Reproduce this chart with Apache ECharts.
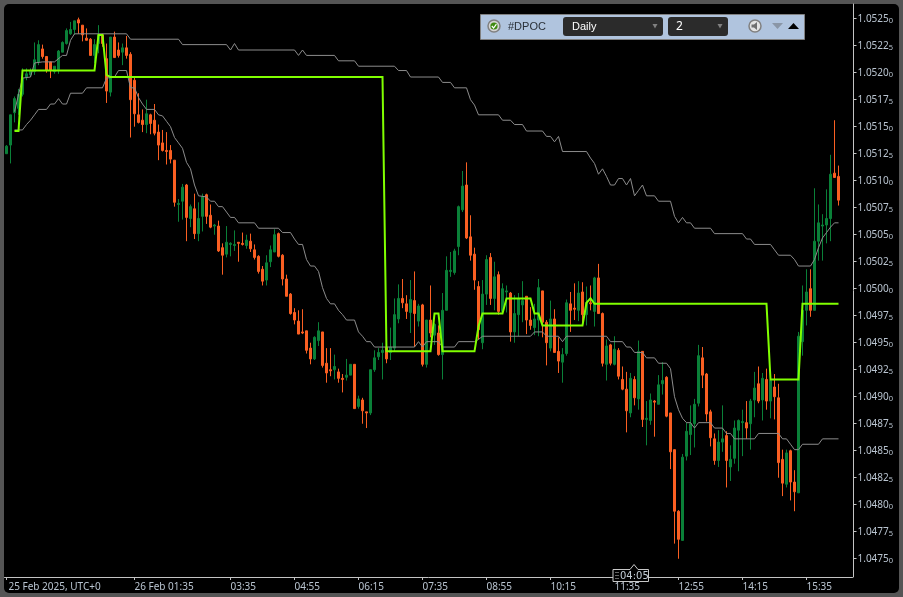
<!DOCTYPE html>
<html><head><meta charset="utf-8">
<style>html,body{margin:0;padding:0;background:#555}#c{width:903px;height:597px}</style>
<script src="https://cdn.jsdelivr.net/npm/echarts@6/dist/echarts.min.js"></script>
</head><body><div id="c"></div>
<script>
const opens=[1.05125,1.05133,1.05163,1.05167,1.05180,1.05196,1.05198,1.05201,1.05210,1.05222,
1.05215,1.05210,1.05201,1.05203,1.05219,1.05227,1.05236,1.05240,1.05249,1.05244,
1.05232,1.05231,1.05216,1.05227,1.05235,1.05213,1.05182,1.05233,1.05221,1.05219,
1.05223,1.05217,1.05193,1.05161,1.05156,1.05152,1.05161,1.05156,1.05145,1.05135,
1.05128,1.05128,1.05119,1.05078,1.05081,1.05096,1.05065,1.05074,1.05051,1.05067,
1.05087,1.05068,1.05058,1.05058,1.05038,1.05032,1.05041,1.05040,1.05043,1.05042,
1.05040,1.05044,1.05036,1.05030,1.05018,1.05008,1.05025,1.05034,1.05051,1.05031,
1.05009,1.04995,1.04978,1.04970,1.04960,1.04961,1.04945,1.04935,1.04952,1.04960,
1.04931,1.04925,1.04925,1.04923,1.04917,1.04918,1.04920,1.04930,1.04891,1.04897,
1.04886,1.04885,1.04925,1.04937,1.04941,1.04946,1.04941,1.04945,1.04972,1.04991,
1.04986,1.04978,1.04989,1.04970,1.04985,1.04930,1.04971,1.04957,1.04959,1.04939,
1.04980,1.05016,1.05015,1.05039,1.05073,1.05096,1.05048,1.05032,1.05002,1.04950,
1.04995,1.05029,1.04991,1.05013,1.04979,1.04997,1.04996,1.04960,1.04976,1.04985,
1.04993,1.04971,1.04964,1.04971,1.04998,1.04969,1.04945,1.04972,1.04942,1.04932,
1.04940,1.04986,1.04982,1.04980,1.04997,1.04976,1.04987,1.04979,1.05010,1.04977,
1.04930,1.04948,1.04930,1.04943,1.04916,1.04907,1.04885,1.04916,1.04898,1.04942,
1.04879,1.04878,1.04896,1.04893,1.04912,1.04918,1.04885,1.04851,1.04794,1.04767,
1.04845,1.04865,1.04875,1.04894,1.04936,1.04921,1.04886,1.04861,1.04841,1.04858,
1.04864,1.04835,1.04843,1.04869,1.04876,1.04876,1.04875,1.04897,1.04912,1.04897,
1.04916,1.04896,1.04909,1.04899,1.04842,1.04819,1.04850,1.04821,1.04811,1.04951,
1.04980,1.05000,1.04980,1.05044,1.05058,1.05059,1.05065,1.05107,1.05104];
const closes=[1.05132,1.05161,1.05176,1.05180,1.05195,1.05199,1.05202,1.05212,1.05226,1.05215,
1.05202,1.05202,1.05206,1.05220,1.05228,1.05239,1.05240,1.05248,1.05246,1.05235,
1.05230,1.05216,1.05226,1.05235,1.05227,1.05183,1.05233,1.05214,1.05216,1.05223,
1.05216,1.05175,1.05162,1.05154,1.05152,1.05162,1.05153,1.05144,1.05133,1.05128,
1.05127,1.05120,1.05080,1.05079,1.05094,1.05066,1.05076,1.05051,1.05065,1.05085,
1.05067,1.05057,1.05059,1.05035,1.05031,1.05043,1.05042,1.05041,1.05042,1.05041,
1.05045,1.05037,1.05029,1.05016,1.05007,1.05024,1.05036,1.05050,1.05030,1.05009,
1.04993,1.04977,1.04971,1.04958,1.04959,1.04943,1.04935,1.04955,1.04961,1.04929,
1.04922,1.04924,1.04928,1.04917,1.04916,1.04920,1.04930,1.04889,1.04898,1.04887,
1.04885,1.04925,1.04936,1.04941,1.04943,1.04935,1.04946,1.04976,1.04991,1.04987,
1.04979,1.04990,1.04977,1.04984,1.04930,1.04971,1.04959,1.04967,1.04939,1.04980,
1.05017,1.05017,1.05035,1.05076,1.05095,1.05047,1.05031,1.05008,1.04962,1.04995,
1.05027,1.04991,1.05011,1.04979,1.05000,1.04998,1.04960,1.04977,1.04991,1.04989,
1.04971,1.04966,1.04972,1.05001,1.04969,1.04950,1.04972,1.04941,1.04933,1.04939,
1.04987,1.04980,1.04981,1.04996,1.04976,1.04987,1.04986,1.05010,1.04977,1.04931,
1.04947,1.04931,1.04944,1.04919,1.04907,1.04887,1.04917,1.04899,1.04942,1.04879,
1.04880,1.04897,1.04895,1.04911,1.04915,1.04882,1.04849,1.04794,1.04768,1.04844,
1.04868,1.04875,1.04893,1.04938,1.04920,1.04884,1.04862,1.04841,1.04858,1.04861,
1.04841,1.04842,1.04871,1.04878,1.04877,1.04871,1.04896,1.04908,1.04896,1.04917,
1.04896,1.04915,1.04900,1.04839,1.04820,1.04848,1.04821,1.04812,1.04956,1.04980,
1.04997,1.04980,1.05044,1.05061,1.05059,1.05065,1.05106,1.05103,1.05082];
const lows=[1.05125,1.05116,1.05154,1.05161,1.05178,1.05193,1.05196,1.05198,1.05207,1.05213,
1.05200,1.05195,1.05199,1.05199,1.05219,1.05226,1.05235,1.05235,1.05236,1.05229,
1.05230,1.05216,1.05209,1.05218,1.05224,1.05172,1.05178,1.05214,1.05214,1.05207,
1.05213,1.05140,1.05150,1.05153,1.05145,1.05144,1.05143,1.05142,1.05119,1.05127,
1.05115,1.05116,1.05076,1.05062,1.05064,1.05044,1.05057,1.05046,1.05044,1.05053,
1.05060,1.05056,1.05050,1.05034,1.05013,1.05029,1.05030,1.05035,1.05025,1.05040,
1.05037,1.05034,1.05027,1.05014,1.05003,1.05003,1.05020,1.05034,1.05029,1.05003,
1.04993,1.04976,1.04967,1.04958,1.04958,1.04940,1.04930,1.04934,1.04947,1.04927,
1.04913,1.04919,1.04916,1.04913,1.04904,1.04915,1.04920,1.04889,1.04889,1.04875,
1.04871,1.04883,1.04923,1.04934,1.04916,1.04931,1.04934,1.04942,1.04968,1.04982,
1.04972,1.04959,1.04946,1.04965,1.04928,1.04927,1.04955,1.04948,1.04938,1.04916,
1.04980,1.05011,1.05013,1.05031,1.05071,1.05046,1.05026,1.04999,1.04953,1.04944,
1.04985,1.04985,1.04980,1.04976,1.04978,1.04978,1.04951,1.04950,1.04956,1.04969,
1.04958,1.04962,1.04957,1.04956,1.04955,1.04929,1.04942,1.04941,1.04922,1.04913,
1.04938,1.04960,1.04971,1.04970,1.04966,1.04966,1.04980,1.04965,1.04977,1.04928,
1.04915,1.04929,1.04929,1.04916,1.04906,1.04867,1.04881,1.04892,1.04888,1.04872,
1.04855,1.04874,1.04863,1.04893,1.04902,1.04881,1.04833,1.04764,1.04750,1.04767,
1.04841,1.04846,1.04853,1.04891,1.04908,1.04877,1.04854,1.04837,1.04835,1.04849,
1.04816,1.04822,1.04838,1.04831,1.04845,1.04861,1.04851,1.04881,1.04894,1.04878,
1.04888,1.04880,1.04879,1.04825,1.04808,1.04816,1.04804,1.04794,1.04811,1.04938,
1.04966,1.04974,1.04980,1.05026,1.05026,1.05042,1.05044,1.05103,1.05077];
const highs=[1.05133,1.05161,1.05178,1.05185,1.05204,1.05204,1.05204,1.05228,1.05230,1.05226,
1.05215,1.05210,1.05206,1.05221,1.05229,1.05241,1.05247,1.05248,1.05251,1.05244,
1.05241,1.05232,1.05231,1.05244,1.05236,1.05227,1.05233,1.05238,1.05228,1.05227,
1.05234,1.05219,1.05196,1.05181,1.05166,1.05175,1.05162,1.05171,1.05152,1.05147,
1.05145,1.05133,1.05119,1.05083,1.05097,1.05097,1.05078,1.05088,1.05080,1.05088,
1.05088,1.05078,1.05060,1.05063,1.05042,1.05058,1.05043,1.05054,1.05043,1.05052,
1.05050,1.05051,1.05041,1.05031,1.05021,1.05031,1.05040,1.05055,1.05052,1.05032,
1.05013,1.04996,1.04982,1.04980,1.04981,1.04961,1.04950,1.04956,1.04969,1.04960,
1.04945,1.04945,1.04939,1.04926,1.04921,1.04935,1.04930,1.04930,1.04901,1.04899,
1.04886,1.04925,1.04943,1.04945,1.04950,1.04946,1.04964,1.04991,1.05004,1.05009,
1.04994,1.05008,1.05016,1.04986,1.04986,1.04971,1.05003,1.04968,1.04966,1.04996,
1.05030,1.05034,1.05037,1.05077,1.05109,1.05117,1.05068,1.05038,1.05007,1.05008,
1.05031,1.05033,1.05025,1.05016,1.05005,1.05003,1.04997,1.04994,1.04996,1.05007,
1.04993,1.04983,1.04986,1.05009,1.04998,1.04971,1.04989,1.04981,1.04955,1.04945,
1.04990,1.04997,1.05005,1.05007,1.05006,1.05002,1.05003,1.05011,1.05023,1.04978,
1.04953,1.04949,1.04956,1.04945,1.04928,1.04923,1.04922,1.04919,1.04952,1.04942,
1.04896,1.04903,1.04897,1.04920,1.04932,1.04919,1.04885,1.04851,1.04795,1.04847,
1.04876,1.04892,1.04898,1.04948,1.04946,1.04922,1.04888,1.04866,1.04869,1.04892,
1.04868,1.04855,1.04878,1.04879,1.04888,1.04896,1.04898,1.04923,1.04928,1.04922,
1.04926,1.04917,1.04921,1.04912,1.04851,1.04851,1.04851,1.04832,1.04960,1.05003,
1.05018,1.05018,1.05093,1.05078,1.05069,1.05092,1.05124,1.05156,1.05114];

const upperIdx=[2,4,6,7,9,12,14,15,16,17,30,31,43,44,55,56,57,58,72,73,74,75,82,83,87,88,97,98,100,101,108,109,111,112,115,116,117,118,123,124,126,127,129,130,134,135,136,137,138,139,145,146,147,148,149,150,151,152,153,154,155,156,157,158,159,160,162,163,166,167,168,169,170,171,172,176,177,184,185,186,187,191,192,193,196,197,198,201,202,203,204,205,206,207,208];
const upperVal=[1.05164,1.05195,1.05196,1.05209,1.05210,1.05210,1.05216,1.05216,1.05230,1.05236,1.05236,1.05231,1.05231,1.05226,1.05226,1.05221,1.05227,1.05221,1.05221,1.05216,1.05221,1.05216,1.05216,1.05211,1.05211,1.05206,1.05206,1.05202,1.05202,1.05196,1.05196,1.05191,1.05191,1.05186,1.05186,1.05175,1.05170,1.05161,1.05161,1.05156,1.05156,1.05152,1.05152,1.05146,1.05146,1.05141,1.05141,1.05136,1.05141,1.05127,1.05127,1.05121,1.05116,1.05106,1.05111,1.05104,1.05096,1.05096,1.05102,1.05102,1.05096,1.05102,1.05086,1.05091,1.05096,1.05086,1.05086,1.05081,1.05081,1.05067,1.05061,1.05066,1.05061,1.05061,1.05056,1.05056,1.05051,1.05051,1.05046,1.05046,1.05041,1.05041,1.05036,1.05031,1.05031,1.05027,1.05021,1.05021,1.05027,1.05038,1.05047,1.05052,1.05057,1.05061,1.05061];
const lowerIdx=[2,4,5,6,7,8,10,11,12,13,14,15,16,19,20,24,25,27,28,30,31,32,33,34,35,37,38,39,40,41,42,43,44,45,46,47,48,50,51,52,53,54,55,56,57,58,62,63,68,69,71,72,73,74,75,76,77,78,79,80,81,82,83,84,85,87,88,89,90,91,92,102,103,104,105,108,109,112,113,117,118,119,131,132,134,135,138,139,140,150,151,154,155,156,157,159,160,162,163,165,166,167,168,169,170,171,172,173,176,177,179,180,181,182,187,188,193,194,195,196,197,198,199,203,204,208];
const lowerVal=[1.05147,1.05147,1.05152,1.05156,1.05161,1.05166,1.05166,1.05171,1.05171,1.05176,1.05171,1.05171,1.05181,1.05181,1.05186,1.05186,1.05195,1.05196,1.05202,1.05202,1.05186,1.05186,1.05177,1.05171,1.05166,1.05166,1.05161,1.05160,1.05155,1.05150,1.05140,1.05135,1.05130,1.05117,1.05111,1.05096,1.05086,1.05085,1.05081,1.05081,1.05076,1.05076,1.05071,1.05066,1.05066,1.05061,1.05061,1.05056,1.05056,1.05052,1.05052,1.05046,1.05041,1.05041,1.05027,1.05021,1.05021,1.05016,1.05001,1.04991,1.04986,1.04986,1.04980,1.04976,1.04971,1.04971,1.04960,1.04956,1.04951,1.04951,1.04946,1.04946,1.04951,1.04946,1.04951,1.04951,1.04946,1.04946,1.04951,1.04951,1.04953,1.04956,1.04956,1.04960,1.04960,1.04956,1.04956,1.04951,1.04956,1.04956,1.04951,1.04951,1.04946,1.04946,1.04941,1.04941,1.04936,1.04936,1.04931,1.04931,1.04926,1.04900,1.04888,1.04880,1.04876,1.04876,1.04871,1.04876,1.04876,1.04871,1.04871,1.04866,1.04866,1.04861,1.04861,1.04866,1.04866,1.04861,1.04861,1.04856,1.04851,1.04851,1.04856,1.04856,1.04861,1.04861];
const pocIdx=[2,3,4,22,23,24,25,26,94,95,106,107,108,109,117,118,119,124,125,131,132,133,134,144,145,146,147,190,191,198,199,208];
const pocVal=[1.05146,1.05146,1.05202,1.05202,1.05235,1.05235,1.05198,1.05196,1.05196,1.04942,1.04942,1.04977,1.04977,1.04942,1.04942,1.04965,1.04977,1.04977,1.04991,1.04991,1.04977,1.04977,1.04966,1.04966,1.04987,1.04991,1.04986,1.04986,1.04916,1.04916,1.04986,1.04986];

const priceTicks=[1.0475,1.04775,1.048,1.04825,1.0485,1.04875,1.049,1.04925,1.0495,1.04975,1.05,1.05025,1.0505,1.05075,1.051,1.05125,1.0515,1.05175,1.052,1.05225,1.0525];
const priceLabels=["1.04750","1.04775","1.04800","1.04825","1.04850","1.04875","1.04900","1.04925","1.04950","1.04975","1.05000","1.05025","1.05050","1.05075","1.05100","1.05125","1.05150","1.05175","1.05200","1.05225","1.05250"];
const timeTickIdx=[0,32,56,72,88,104,120,136,152,168,184,200];
const timeLabels=["25 Feb 2025, UTC+0","26 Feb 01:35","03:35","04:55","06:15","07:35","08:55","10:15","11:35","12:55","14:15","15:35"];
const slotCount=212;
const panelName="#DPOC",panelPeriod="Daily",panelDepth="2",cursorTime="04:05";

const categories=Array.from({length:slotCount},(_,i)=>{const t=timeTickIdx.indexOf(i);return t<0?String(i):timeLabels[t];});
const ohlc=opens.map((o,i)=>[o,closes[i],lows[i],highs[i]]);
const axisC='#c4c4c4',txt='#b9c4d0',font='Noto Sans',ui='Liberation Sans';
const tick=i=>timeTickIdx.includes(i);
const line=(name,idx,val,color,w,z)=>({name,type:'line',data:idx.map((k,i)=>[k,val[i]]),showSymbol:false,symbol:'none',silent:true,z,lineStyle:{color,width:w,cap:'butt',join:'miter'}});
const rr=(x,y,w,h,r,fill,stroke)=>({type:'rect',z:100,shape:{x,y,width:w,height:h,r},style:{fill,stroke:stroke||null,lineWidth:1}});
const tx=(x,y,text,fill,size,f,extra)=>({type:'text',z:110,x,y,style:Object.assign({text,fill,font:size+'px "'+(f||font)+'"',textVerticalAlign:'middle'},extra||{})});
const poly=(points,fill,stroke)=>({type:'polygon',z:102,shape:{points},style:{fill,stroke:stroke||null,lineWidth:1}});
const circ=(cx,cy,r,fill,stroke,lw)=>({type:'circle',z:102,shape:{cx,cy,r},style:{fill,stroke:stroke||null,lineWidth:lw||1}});

const chart=echarts.init(document.getElementById('c'),null,{renderer:'canvas'});
chart.setOption({
 animation:false,backgroundColor:'#555555',
 grid:{left:4.5,top:4,width:848,height:573,containLabel:false},
 xAxis:{type:'category',data:categories,boundaryGap:true,
  axisLine:{onZero:false,lineStyle:{color:axisC,width:1}},
  axisTick:{show:true,alignWithLabel:true,length:3,interval:tick,lineStyle:{color:axisC}},
  axisLabel:{show:true,interval:tick,align:'left',margin:5,color:txt,fontSize:10,fontFamily:font,hideOverlap:false,showMinLabel:true,
   formatter:v=>v===timeLabels[0]?'{f|'+v+'}':v,
   rich:{f:{padding:[0,0,0,2],fontSize:10,fontFamily:font,color:txt}}},
  splitLine:{show:false}},
 yAxis:{type:'value',position:'right',min:1.047331,max:1.052636,offset:1,scale:true,
  axisLine:{show:true,onZero:false,lineStyle:{color:axisC,width:1}},
  axisTick:{show:true,length:3,customValues:priceTicks,lineStyle:{color:axisC}},
  axisLabel:{show:true,customValues:priceTicks,margin:4,color:txt,
   formatter:v=>{const i=priceTicks.findIndex(t=>Math.abs(t-v)<1e-7);const s=i<0?v.toFixed(5):priceLabels[i];return '{a|'+s.slice(0,6)+'}{b|'+s.slice(6)+'}';},
   rich:{a:{fontSize:10,fontFamily:font,color:txt,padding:[1,0,0,0]},b:{fontSize:7.5,fontFamily:font,color:txt,padding:[5,0,0,0]}}},
  splitLine:{show:false}},
 series:[
  {type:'candlestick',data:ohlc,barWidth:3,silent:true,z:2,clip:true,
   itemStyle:{color:'#0a8038',color0:'#fa5f22',borderColor:'#0a8038',borderColor0:'#fa5f22',borderWidth:1}},
  line('upper',upperIdx,upperVal,'#8c8c8c',1,3),
  line('lower',lowerIdx,lowerVal,'#8c8c8c',1,3),
  line('poc',pocIdx,pocVal,'#80ff00',2,4)
 ],
 graphic:{elements:[
  {type:'rect',z:-5,silent:true,shape:{x:4,y:4,width:895,height:589,r:5},style:{fill:'#000'}},
  rr(480.5,14.5,324,25,0,'#b0c4de','#808080'),
  circ(494,26,6,'#d4d4d4','#808080',1.5),circ(494,26,3.6,'#3f8a10'),
  {type:'polyline',z:103,shape:{points:[[491.8,26],[493.6,28],[496.4,24.2]]},style:{stroke:'#fff',lineWidth:1.2,fill:null}},
  tx(508,26.5,panelName,'#2a3038',11,ui),
  rr(563,17,100,19,3,'#2b2b2b'),tx(572,26.5,panelPeriod,'#ffffff',11,ui),
  poly([[652.5,24],[657.5,24],[655,28.5]],'#808080'),
  rr(668,17,60,19,3,'#2b2b2b'),tx(676,26.5,panelDepth,'#ffffff',12),
  poly([[717.5,24],[722.5,24],[720,28.5]],'#808080'),
  circ(755,26,6,'#e4e4e4','#808080',1.5),
  poly([[751.5,24.5],[754,24.5],[757,22],[757,30],[754,27.5],[751.5,27.5]],'#707070'),
  poly([[772,23],[783,23],[777.5,29]],'#8a96a6'),
  poly([[793.5,23],[799,29],[788,29]],'#000'),
  poly([[613,569.5],[630,569.5],[634,564.5],[638,569.5],[648.5,569.5],[648.5,581.5],[613,581.5]],'#000','#c8c8c8'),
  {type:'group',z:103,children:[0,1,2].flatMap(r=>[0,1].map(c=>({type:'rect',z:103,shape:{x:615.5+c*2,y:572+r*3,width:1,height:1},style:{fill:'#c8c8c8'}})))},
  tx(620,576,cursorTime,'#c3cdd6',10,'DejaVu Sans')
 ]}
});
</script></body></html>
